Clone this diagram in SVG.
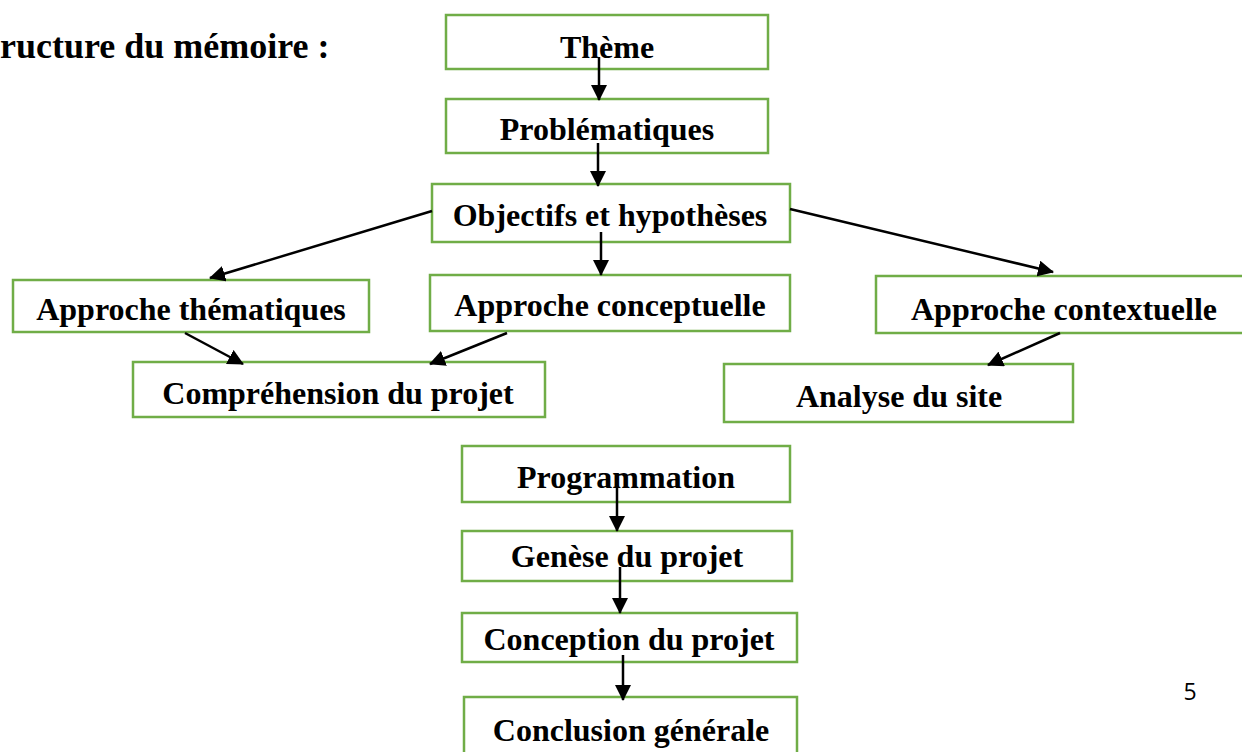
<svg xmlns="http://www.w3.org/2000/svg" width="1242" height="752" viewBox="0 0 1242 752">
<style>
.box{fill:#fff;stroke:#70AD47;stroke-width:2.5}
.t{font-family:"Liberation Serif","Times New Roman",serif;font-weight:bold;font-size:32px;fill:#000;text-anchor:middle}
.c{stroke:#000;stroke-width:2.5;fill:none;marker-end:url(#ah)}
</style>
<defs>
<marker id="ah" markerUnits="userSpaceOnUse" markerWidth="16" markerHeight="16" refX="15" refY="8" orient="auto" viewBox="0 0 16 16">
<path d="M0,0 L16,8 L0,16 z" fill="#000"/>
</marker>
</defs>
<rect width="1242" height="752" fill="#fff"/>
<text x="0" y="58" font-family="Liberation Serif, serif" font-weight="bold" font-size="36px">ructure du mémoire :</text>
<g id="n-theme"><rect class="box" x="446" y="15" width="322" height="54"/><text class="t" x="607" y="58">Thème</text></g>
<g id="n-problematiques"><rect class="box" x="446" y="99" width="322" height="54"/><text class="t" x="607" y="140">Problématiques</text></g>
<g id="n-objectifs"><rect class="box" x="432" y="184" width="358" height="58"/><text class="t" x="610" y="226">Objectifs et hypothèses</text></g>
<g id="n-thematiques"><rect class="box" x="13" y="280" width="356" height="52"/><text class="t" x="191" y="320">Approche thématiques</text></g>
<g id="n-conceptuelle"><rect class="box" x="430" y="275" width="360" height="56"/><text class="t" x="610" y="316">Approche conceptuelle</text></g>
<g id="n-contextuelle"><rect class="box" x="876" y="276" width="376" height="57"/><text class="t" x="1064" y="320">Approche contextuelle</text></g>
<g id="n-comprehension"><rect class="box" x="133" y="362" width="412" height="55"/><text class="t" x="338" y="404">Compréhension du projet</text></g>
<g id="n-analyse"><rect class="box" x="724" y="364" width="349" height="58"/><text class="t" x="899" y="407">Analyse du site</text></g>
<g id="n-programmation"><rect class="box" x="462" y="446" width="328" height="56"/><text class="t" x="626" y="488">Programmation</text></g>
<g id="n-genese"><rect class="box" x="462" y="531" width="330" height="50"/><text class="t" x="627" y="567">Genèse du projet</text></g>
<g id="n-conception"><rect class="box" x="462" y="613" width="335" height="49"/><text class="t" x="629" y="650">Conception du projet</text></g>
<g id="n-conclusion"><rect class="box" x="464" y="697" width="333" height="60"/><text class="t" x="631" y="741">Conclusion générale</text></g>
<text x="1190" y="700" font-family="Open Sans, sans-serif" font-size="23px" fill="#000" text-anchor="middle">5</text>
<g id="connectors">
<line class="c" x1="599" y1="57" x2="599" y2="100"/>
<line class="c" x1="598" y1="143" x2="598" y2="186"/>
<line class="c" x1="601" y1="232" x2="601" y2="275"/>
<line class="c" x1="432" y1="211" x2="210" y2="278"/>
<line class="c" x1="790" y1="209" x2="1053" y2="272"/>
<line class="c" x1="185" y1="333" x2="243" y2="364"/>
<line class="c" x1="507" y1="333" x2="430" y2="364"/>
<line class="c" x1="1060" y1="333" x2="988" y2="365"/>
<line class="c" x1="617" y1="485" x2="617" y2="531"/>
<line class="c" x1="620" y1="567" x2="620" y2="613"/>
<line class="c" x1="623" y1="655" x2="623" y2="700"/>
</g>
</svg>
